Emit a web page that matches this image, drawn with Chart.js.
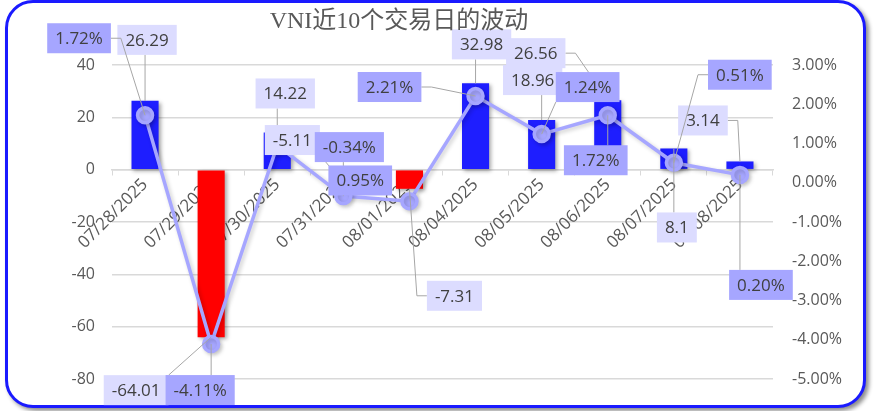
<!DOCTYPE html>
<html>
<head>
<meta charset="utf-8">
<script src="https://cdn.jsdelivr.net/npm/chart.js@4.4.1/dist/chart.umd.min.js"></script>
<style>
  body { margin: 0; background: #fff; }
  #wrap { position: relative; width: 881px; height: 411px; }
  #frame {
    position: absolute; left: 5px; top: 0; width: 861px; height: 408px;
    box-sizing: border-box; border: 3px solid #1a1aff; border-radius: 28px;
    box-shadow: 3px 3px 4px rgba(0,0,0,0.45); background: #fff;
  }
  #c { position: absolute; left: 0; top: 0; }
</style>
</head>
<body>
<div id="wrap">
  <div id="frame"></div>
  <canvas id="c" width="881" height="411"></canvas>
</div>
<script>
const dates = ['07/28/2025', '07/29/2025', '07/30/2025', '07/31/2025', '08/01/2025',
               '08/04/2025', '08/05/2025', '08/06/2025', '08/07/2025', '08/08/2025'];
const pointChange = [26.29, -64.01, 14.22, -5.11, -7.31, 32.98, 18.96, 26.56, 8.1, 3.14];
const pctChange = [1.72, -4.11, 0.95, -0.34, -0.47, 2.21, 1.24, 1.72, 0.51, 0.20];
const leftTicks = [-80, 40, 20];   // min, max, step
const rightTicks = [-5, 3, 1];     // min, max, step (percent)

// label box offsets from the mark (dx, dy) and leader style: '' nearest edge, 'l'/'r' side stub, 'n' none
const barLabelOff = [[2,-61],[-75,53],[8,-39],[-51,-43],[45,107],[6,-39],[-9,-40],[-72,-47],[3,79],[-37,-41]];
const barLeader = ['', '', '', '', 'l', '', '', 'r', '', 'r'];
const lineLabelOff = [[-66,-77],[-11,46],[83,35],[6,-49],null,[-86,-9],[46,-47],[-12,45],[66,-88],[21,110]];
const lineLeader = ['r', '', 'n', '', '', 'r', '', '', 'l', ''];

const BLUE = '#1e1eff', RED = '#ff0000', LAV = '#a6a6ff';
const labelFont = '17px "Open Sans"';

const shadowPlugin = {
  id: 'shadow',
  beforeDatasetDraw(chart, args) {
    const ctx = chart.ctx;
    ctx.save();
    ctx.shadowColor = args.meta.type === 'bar' ? 'rgba(0,0,0,0.35)' : 'rgba(0,0,0,0.2)';
    ctx.shadowBlur = 4;
    ctx.shadowOffsetX = 2;
    ctx.shadowOffsetY = 2;
  },
  afterDatasetDraw(chart) {
    chart.ctx.restore();
  }
};

function drawLabels(ctx, meta, texts, offs, leaders, bg) {
  const boxes = [];
  meta.data.forEach((el, i) => {
    const o = offs[i];
    if (!o) return;
    const w = ctx.measureText(texts[i]).width + 16, h = 30;
    const cx = el.x + o[0], cy = el.y + o[1];
    boxes.push({ x: el.x, y: el.y, cx, cy, w, h, l: cx - w / 2, t: cy - h / 2, text: texts[i], lead: leaders[i] });
  });
  ctx.strokeStyle = '#a6a6a6';
  ctx.lineWidth = 1;
  boxes.forEach(b => {
    if (b.lead === 'n') return;
    ctx.beginPath();
    if (b.lead === 'l' || b.lead === 'r') {
      const ex = b.lead === 'l' ? b.l : b.l + b.w;
      const sx = b.lead === 'l' ? ex - 10 : ex + 10;
      ctx.moveTo(ex, b.cy);
      ctx.lineTo(sx, b.cy);
      ctx.lineTo(b.x, b.y);
    } else {
      const nx = Math.min(Math.max(b.x, b.l), b.l + b.w);
      const ny = Math.min(Math.max(b.y, b.t), b.t + b.h);
      ctx.moveTo(nx, ny);
      ctx.lineTo(b.x, b.y);
    }
    ctx.stroke();
  });
  boxes.forEach(b => {
    ctx.fillStyle = bg;
    ctx.fillRect(b.l, b.t, b.w, b.h);
    ctx.fillStyle = '#404040';
    ctx.textAlign = 'center';
    ctx.textBaseline = 'middle';
    ctx.fillText(b.text, b.cx, b.cy + 1);
  });
}

const labelPlugin = {
  id: 'valueLabels',
  afterDatasetsDraw(chart) {
    const ctx = chart.ctx;
    ctx.save();
    ctx.font = labelFont;
    drawLabels(ctx, chart.getDatasetMeta(0), pointChange.map(v => String(v)), barLabelOff, barLeader, '#dcdcff');
    drawLabels(ctx, chart.getDatasetMeta(1), pctChange.map(v => v.toFixed(2) + '%'), lineLabelOff, lineLeader, LAV);
    ctx.restore();
  }
};

const titlePlugin = {
  id: 'chartTitle',
  afterDraw(chart) {
    const ctx = chart.ctx;
    ctx.save();
    ctx.font = '24px "Liberation Serif", "Noto Sans CJK SC"';
    ctx.fillStyle = '#595959';
    ctx.textAlign = 'center';
    ctx.textBaseline = 'middle';
    ctx.fillText('VNI近10个交易日的波动', 399, 22);
    ctx.restore();
  }
};

new Chart(document.getElementById('c'), {
  data: {
    labels: dates,
    datasets: [{
      type: 'bar',
      data: pointChange,
      backgroundColor: pointChange.map(v => v >= 0 ? BLUE : RED),
      barPercentage: 0.41,
      categoryPercentage: 1,
      yAxisID: 'y',
      order: 1
    }, {
      type: 'line',
      data: pctChange,
      borderColor: LAV,
      borderWidth: 3.5,
      pointRadius: 7.5,
      pointBackgroundColor: LAV,
      pointBorderColor: LAV,
      tension: 0,
      yAxisID: 'y1',
      order: 0
    }]
  },
  options: {
    responsive: false,
    animation: false,
    layout: { padding: { top: 65, bottom: 32, left: 0, right: 0 } },
    plugins: { legend: { display: false }, tooltip: { enabled: false } },
    scales: {
      x: {
        position: { y: 0 },
        grid: { offset: true, drawOnChartArea: false, drawTicks: true, tickLength: 5, color: '#d9d9d9' },
        border: { color: '#d9d9d9', width: 1.5 },
        ticks: { minRotation: 45, maxRotation: 45, autoSkip: false, padding: 0, color: '#595959', font: { family: 'Open Sans', size: 17 } }
      },
      y: {
        position: 'left',
        min: leftTicks[0], max: leftTicks[1],
        ticks: { stepSize: leftTicks[2], padding: 17, color: '#595959', font: { family: 'Open Sans', size: 16 } },
        grid: { color: '#d9d9d9', lineWidth: 1.5, drawTicks: false },
        border: { display: false },
        afterFit(s) { s.width = 112; }
      },
      y1: {
        position: 'right',
        min: rightTicks[0], max: rightTicks[1],
        ticks: { stepSize: rightTicks[2], padding: 19, color: '#595959', font: { family: 'Open Sans', size: 16 },
                 callback: v => v.toFixed(2) + '%' },
        grid: { drawOnChartArea: false, drawTicks: false },
        border: { display: false },
        afterFit(s) { s.width = 108; }
      }
    }
  },
  plugins: [shadowPlugin, labelPlugin, titlePlugin]
});
</script>
</body>
</html>
